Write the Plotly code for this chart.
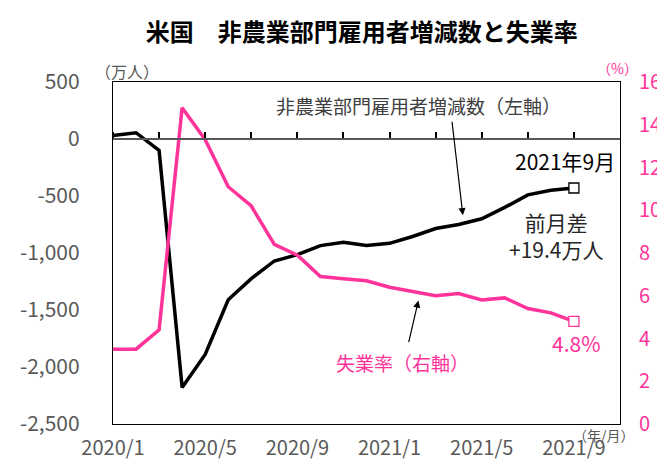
import plotly.graph_objects as go

# ---- data ----
months = ["2020/1", "2020/2", "2020/3", "2020/4", "2020/5", "2020/6", "2020/7",
          "2020/8", "2020/9", "2020/10", "2020/11", "2020/12", "2021/1", "2021/2",
          "2021/3", "2021/4", "2021/5", "2021/6", "2021/7", "2021/8", "2021/9"]
payrolls = [30, 55, -100, -2180, -1890, -1410, -1225, -1070, -1015, -935, -905,
            -935, -915, -855, -785, -750, -700, -600, -490, -450, -430]
unemployment = [3.5, 3.5, 4.4, 14.8, 13.3, 11.1, 10.2, 8.4, 7.9, 6.9, 6.8, 6.7,
                6.4, 6.2, 6.0, 6.1, 5.8, 5.9, 5.4, 5.2, 4.8]
x_tick_labels = ["2020/1", "2020/5", "2020/9", "2021/1", "2021/5", "2021/9"]
y_left_vals = [500, 0, -500, -1000, -1500, -2000, -2500]
y_left_text = ["500", "0", "-500", "-1,000", "-1,500", "-2,000", "-2,500"]
y_right_vals = [0, 2, 4, 6, 8, 10, 12, 14, 16]

PINK = "#FF3399"
GRAY = "#595959"
FONT = "Noto Sans CJK JP"

fig = go.Figure()
fig.add_trace(go.Scatter(x=months, y=payrolls, mode="lines",
                         line=dict(color="black", width=3.5), showlegend=False))
fig.add_trace(go.Scatter(x=[months[-1]], y=[payrolls[-1]], mode="markers",
                         marker=dict(symbol="square", size=10, color="white",
                                     line=dict(color="black", width=1.3)),
                         showlegend=False))
fig.add_trace(go.Scatter(x=months, y=unemployment, mode="lines", yaxis="y2",
                         line=dict(color=PINK, width=3.5), showlegend=False))
fig.add_trace(go.Scatter(x=[months[-1]], y=[unemployment[-1]], mode="markers", yaxis="y2",
                         marker=dict(symbol="square", size=10, color="white",
                                     line=dict(color=PINK, width=1.3)),
                         showlegend=False))
# invisible trace to carry the zero-crossing category axis
fig.add_trace(go.Scatter(x=months, y=payrolls, mode="lines", xaxis="x2", yaxis="y",
                         opacity=0, hoverinfo="skip", showlegend=False))

fig.update_layout(
    width=665, height=465,
    margin=dict(l=103, r=49, t=74, b=42),
    paper_bgcolor="white", plot_bgcolor="white",
    font=dict(family=FONT, color=GRAY),
    title=dict(text="<b>米国　非農業部門雇用者増減数と失業率</b>",
               x=0.532, xanchor="center", y=1 - 25 / 465, yanchor="middle",
               font=dict(size=24, color="black", family=FONT)),
    xaxis=dict(type="category", range=[0, 22], tickmode="array",
               tickvals=x_tick_labels, ticktext=x_tick_labels,
               showline=True, mirror=True, linecolor="black", linewidth=1.3,
               ticks="", showgrid=False, zeroline=False,
               tickfont=dict(size=20, color=GRAY), ticklabelstandoff=6),
    xaxis2=dict(type="category", range=[0, 22], overlaying="x", anchor="free",
                position=2500 / 3000, side="top",
                showline=True, linecolor=GRAY, linewidth=1.5,
                ticks="outside", ticklen=6, tickwidth=1.5, tickcolor="black",
                tickmode="array", tickvals=months[::2], showticklabels=False,
                showgrid=False, zeroline=False),
    yaxis=dict(range=[-2500, 500], tickmode="array", tickvals=y_left_vals,
               ticktext=y_left_text, showline=True, mirror=True,
               linecolor="black", linewidth=1.3, ticks="", showgrid=False,
               zeroline=False, tickfont=dict(size=21, color=GRAY),
               ticklabelstandoff=28),
    yaxis2=dict(range=[0, 16], overlaying="y", side="right", tickmode="array",
                tickvals=y_right_vals, showline=False, ticks="", showgrid=False,
                zeroline=False, tickfont=dict(size=20, color=PINK),
                ticklabelstandoff=18),
)

def px(xp):
    return (xp - 103) / 513

def py(yp):
    return (423 - yp) / 349

ann = [
    dict(text="非農業部門雇用者増減数（左軸）", x=px(412), y=py(98),
         font=dict(size=19, color="#404040")),
    dict(text="2021年9月", x=px(560), y=py(155), font=dict(size=21, color="black")),
    dict(text="前月差<br>+19.4万人", x=px(551), y=py(231), font=dict(size=21, color="#262626")),
    dict(text="4.8%", x=px(572), y=py(340), font=dict(size=21, color=PINK)),
    dict(text="失業率（右軸）", x=px(396), y=py(360), font=dict(size=19, color=PINK)),
    dict(text="（年/月）", x=px(600), y=py(434), font=dict(size=14, color=GRAY)),
    dict(text="（万人）", x=px(117), y=py(63), font=dict(size=16, color=GRAY)),
    dict(text="（%）", x=px(613), y=py(60), font=dict(size=14, color=PINK)),
]
for a in ann:
    fig.add_annotation(xref="paper", yref="paper", showarrow=False,
                       xanchor="center", yanchor="middle", **a)

# arrows
fig.add_annotation(xref="paper", yref="paper", x=px(457), y=py(210), ax=-11, ay=-95,
                   showarrow=True, arrowhead=2, arrowsize=1.2, arrowwidth=1.2,
                   arrowcolor="black", text="")
fig.add_annotation(xref="paper", yref="paper", x=px(412), y=py(297), ax=-10, ay=43,
                   showarrow=True, arrowhead=2, arrowsize=1.2, arrowwidth=1.2,
                   arrowcolor="black", text="")

fig.write_html("out.html")
